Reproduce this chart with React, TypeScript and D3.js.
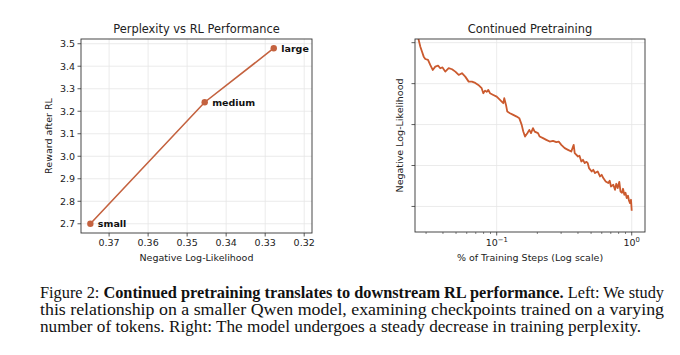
import React from "react";
import * as d3 from "d3";

// ---- Left panel data: Perplexity vs RL Performance ----
const modelSizes = ["small", "medium", "large"];
const modelNLL = [0.3748, 0.3455, 0.3278];
const modelReward = [2.7, 3.24, 3.48];
const leftXTicks = [0.37, 0.36, 0.35, 0.34, 0.33, 0.32];
const leftYTicks = [2.7, 2.8, 2.9, 3.0, 3.1, 3.2, 3.3, 3.4, 3.5];

// ---- Right panel data: Continued Pretraining ----
const stepFrac = [
  0.0259, 0.0272, 0.028, 0.0288, 0.0296, 0.031, 0.0322, 0.0336, 0.0351, 0.0368,
  0.0382, 0.0397, 0.0416, 0.0441, 0.0467, 0.0494, 0.0523, 0.0553, 0.0585, 0.062,
  0.0656, 0.0694, 0.0731, 0.0774, 0.0796, 0.0819, 0.0843, 0.0867, 0.0892, 0.0944,
  0.1, 0.1058, 0.1089, 0.1119, 0.1138, 0.1172, 0.1198, 0.1254, 0.1327, 0.1406,
  0.147, 0.1532, 0.1574, 0.1621, 0.1686, 0.1744, 0.1795, 0.1857, 0.1912, 0.2023,
  0.2082, 0.2203, 0.233, 0.247, 0.2612, 0.2764, 0.288, 0.301, 0.3189, 0.3374,
  0.3569, 0.3718, 0.3783, 0.4002, 0.4105, 0.4234, 0.4358, 0.4486, 0.4626, 0.4722,
  0.4827, 0.5054, 0.5195, 0.5346, 0.5598, 0.5823, 0.5995, 0.616, 0.6418, 0.671,
  0.6871, 0.7026, 0.7306, 0.7521, 0.769, 0.7876, 0.8093, 0.826, 0.8474, 0.8622,
  0.8815, 0.8997, 0.9183, 0.9389, 0.955, 0.9714, 0.9881, 1.0,
];
const trainNLL = [
  2.6188, 2.5902, 2.578, 2.5659, 2.5602, 2.5578, 2.5456, 2.5334, 2.5415, 2.5439,
  2.5376, 2.5395, 2.5293, 2.5376, 2.5351, 2.5293, 2.5212, 2.5254, 2.5171, 2.5049,
  2.5049, 2.5017, 2.4968, 2.4888, 2.4766, 2.4829, 2.4798, 2.4846, 2.4766, 2.4724,
  2.4683, 2.4602, 2.4561, 2.4522, 2.4644, 2.448, 2.4317, 2.4278, 2.4237, 2.4195,
  2.4156, 2.3993, 2.3829, 2.3707, 2.379, 2.3871, 2.379, 2.3912, 2.3829, 2.379,
  2.3707, 2.3668, 2.3627, 2.3585, 2.3602, 2.3571, 2.3585, 2.3505, 2.3424, 2.3383,
  2.3341, 2.3505, 2.3302, 2.322, 2.3237, 2.3098, 2.3139, 2.3059, 2.309, 2.3059,
  2.2937, 2.2854, 2.2895, 2.2815, 2.2854, 2.2732, 2.2773, 2.2693, 2.261, 2.2571,
  2.2627, 2.2488, 2.2529, 2.2407, 2.2554, 2.2449, 2.2602, 2.2366, 2.2334, 2.2432,
  2.2285, 2.2334, 2.2205, 2.2261, 2.2139, 2.2083, 2.2163, 2.1895,
];
const rightYTicks = [2.2, 2.3, 2.4, 2.5, 2.6];
const rightXTicks = [0.1, 1];
const rightXTickExp = ["\u22121", "0"];
const rightXMinor = [0.03, 0.04, 0.05, 0.06, 0.07, 0.08, 0.09, 0.2, 0.3, 0.4, 0.5, 0.6, 0.7, 0.8, 0.9];

const captionLine1Pre = "Figure 2: ";
const captionLine1Bold = "Continued pretraining translates to downstream RL performance.";
const captionLine1Post = " Left: We study";
const captionLine2 = "this relationship on a smaller Qwen model, examining checkpoints trained on a varying";
const captionLine3 = "number of tokens. Right: The model undergoes a steady decrease in training perplexity.";

const SANS = "DejaVu Sans, sans-serif";
const AXIS = "#333";
const GRID = "#e6e6e6";
const TXT = "#222";

export default function App() {
  // Left axes box
  const L = { x0: 81, x1: 312, y0: 39, y1: 233 };
  const lx = d3.scaleLinear().domain([0.3772, 0.318]).range([L.x0, L.x1]);
  const ly = d3.scaleLinear().domain([2.659, 3.521]).range([L.y1, L.y0]);
  const leftPts = modelNLL.map((v, i) => [v, modelReward[i]] as [number, number]);
  const leftLine = d3.line<[number, number]>().x((d) => lx(d[0])).y((d) => ly(d[1]))(leftPts) || "";

  // Right axes box
  const R = { x0: 415, x1: 645, y0: 39, y1: 232 };
  const rx = d3.scaleLog().domain([0.02483, 1.2544]).range([R.x0, R.x1]);
  const ry = d3.scaleLinear().domain([2.1376, 2.609]).range([R.y1, R.y0]);
  const rightPts = stepFrac.map((v, i) => [v, trainNLL[i]] as [number, number]);
  const rightLine = d3.line<[number, number]>().x((d) => rx(d[0])).y((d) => ry(d[1]))(rightPts) || "";

  const leftColor = "#c4623f";
  const rightColor = "#cb5a2e";

  return (
    <svg
      width={680}
      height={355}
      style={{ position: "absolute", left: 0, top: 0, display: "block", background: "#fff" }}
    >
      <defs>
        <clipPath id="clipR">
          <rect x={R.x0} y={R.y0} width={R.x1 - R.x0} height={R.y1 - R.y0} />
        </clipPath>
        <clipPath id="clipL">
          <rect x={L.x0} y={L.y0} width={L.x1 - L.x0} height={L.y1 - L.y0} />
        </clipPath>
      </defs>
      <rect x={0} y={0} width={680} height={355} fill="#fff" />

      {/* ===== Left panel ===== */}
      <g>
        {leftXTicks.map((t) => (
          <line key={"lgx" + t} x1={lx(t)} x2={lx(t)} y1={L.y0} y2={L.y1} stroke={GRID} strokeWidth={0.8} />
        ))}
        {leftYTicks.map((t) => (
          <line key={"lgy" + t} x1={L.x0} x2={L.x1} y1={ly(t)} y2={ly(t)} stroke={GRID} strokeWidth={0.8} />
        ))}
        <path d={leftLine} fill="none" stroke={leftColor} strokeWidth={1.6} clipPath="url(#clipL)" />
        {leftPts.map((d, i) => (
          <circle key={"lp" + i} cx={lx(d[0])} cy={ly(d[1])} r={3.2} fill={leftColor} />
        ))}
        {leftPts.map((d, i) => (
          <text
            key={"ll" + i}
            x={lx(d[0]) + 7.5}
            y={ly(d[1])}
            dy="0.35em"
            fontFamily={SANS}
            fontSize={9.5}
            fontWeight="bold"
            fill="#111"
          >
            {modelSizes[i]}
          </text>
        ))}
        <rect x={L.x0} y={L.y0} width={L.x1 - L.x0} height={L.y1 - L.y0} fill="none" stroke={AXIS} strokeWidth={0.9} />
        {leftXTicks.map((t) => (
          <g key={"ltx" + t}>
            <line x1={lx(t)} x2={lx(t)} y1={L.y1} y2={L.y1 + 3.5} stroke={AXIS} strokeWidth={0.8} />
            <text x={lx(t)} y={L.y1 + 13} textAnchor="middle" fontFamily={SANS} fontSize={9.5} fill={TXT}>
              {t.toFixed(2)}
            </text>
          </g>
        ))}
        {leftYTicks.map((t) => (
          <g key={"lty" + t}>
            <line x1={L.x0 - 3.5} x2={L.x0} y1={ly(t)} y2={ly(t)} stroke={AXIS} strokeWidth={0.8} />
            <text x={L.x0 - 6} y={ly(t)} dy="0.35em" textAnchor="end" fontFamily={SANS} fontSize={9.5} fill={TXT}>
              {t.toFixed(1)}
            </text>
          </g>
        ))}
        <text x={(L.x0 + L.x1) / 2} y={33} textAnchor="middle" fontFamily={SANS} fontSize={11.4} fill={TXT}>
          Perplexity vs RL Performance
        </text>
        <text x={(L.x0 + L.x1) / 2} y={261} textAnchor="middle" fontFamily={SANS} fontSize={9.5} fill={TXT}>
          Negative Log-Likelihood
        </text>
        <text
          transform={`translate(52,${(L.y0 + L.y1) / 2}) rotate(-90)`}
          textAnchor="middle"
          fontFamily={SANS}
          fontSize={9.5}
          fill={TXT}
        >
          Reward after RL
        </text>
      </g>

      {/* ===== Right panel ===== */}
      <g>
        {rightXTicks.map((t) => (
          <line key={"rgx" + t} x1={rx(t)} x2={rx(t)} y1={R.y0} y2={R.y1} stroke={GRID} strokeWidth={0.8} />
        ))}
        {rightYTicks.map((t) => (
          <line key={"rgy" + t} x1={R.x0} x2={R.x1} y1={ry(t)} y2={ry(t)} stroke={GRID} strokeWidth={0.8} />
        ))}
        <path d={rightLine} fill="none" stroke={rightColor} strokeWidth={1.8} strokeLinejoin="round" clipPath="url(#clipR)" />
        <rect x={R.x0} y={R.y0} width={R.x1 - R.x0} height={R.y1 - R.y0} fill="none" stroke={AXIS} strokeWidth={0.9} />
        {rightXTicks.map((t, i) => (
          <g key={"rtx" + t}>
            <line x1={rx(t)} x2={rx(t)} y1={R.y1} y2={R.y1 + 3.5} stroke={AXIS} strokeWidth={0.8} />
            <text x={rx(t)} y={R.y1 + 14} textAnchor="middle" fontFamily={SANS} fontSize={9.5} fill={TXT}>
              10
              <tspan dy={-4} fontSize={6.8}>
                {rightXTickExp[i]}
              </tspan>
            </text>
          </g>
        ))}
        {rightXMinor.map((t) => (
          <line key={"rmx" + t} x1={rx(t)} x2={rx(t)} y1={R.y1} y2={R.y1 + 2} stroke={AXIS} strokeWidth={0.6} />
        ))}
        {rightYTicks.map((t) => (
          <line key={"rty" + t} x1={R.x0 - 3.5} x2={R.x0} y1={ry(t)} y2={ry(t)} stroke={AXIS} strokeWidth={0.8} />
        ))}
        <text x={(R.x0 + R.x1) / 2} y={33} textAnchor="middle" fontFamily={SANS} fontSize={11.4} fill={TXT}>
          Continued Pretraining
        </text>
        <text x={(R.x0 + R.x1) / 2} y={261} textAnchor="middle" fontFamily={SANS} fontSize={9.5} fill={TXT}>
          % of Training Steps (Log scale)
        </text>
        <text
          transform={`translate(403,${(R.y0 + R.y1) / 2}) rotate(-90)`}
          textAnchor="middle"
          fontFamily={SANS}
          fontSize={9.5}
          fill={TXT}
        >
          Negative Log-Likelihood
        </text>
      </g>

      {/* ===== Caption ===== */}
      <g fontFamily="'Liberation Serif', serif" fontSize={16} fill="#111">
        <text x={40} y={297.5} textLength={624} lengthAdjust="spacingAndGlyphs">
          {captionLine1Pre}
          <tspan fontWeight="bold">{captionLine1Bold}</tspan>
          {captionLine1Post}
        </text>
        <text x={40} y={314.5} textLength={624} lengthAdjust="spacingAndGlyphs">
          {captionLine2}
        </text>
        <text x={40} y={331.5} textLength={601} lengthAdjust="spacingAndGlyphs">
          {captionLine3}
        </text>
      </g>
    </svg>
  );
}
